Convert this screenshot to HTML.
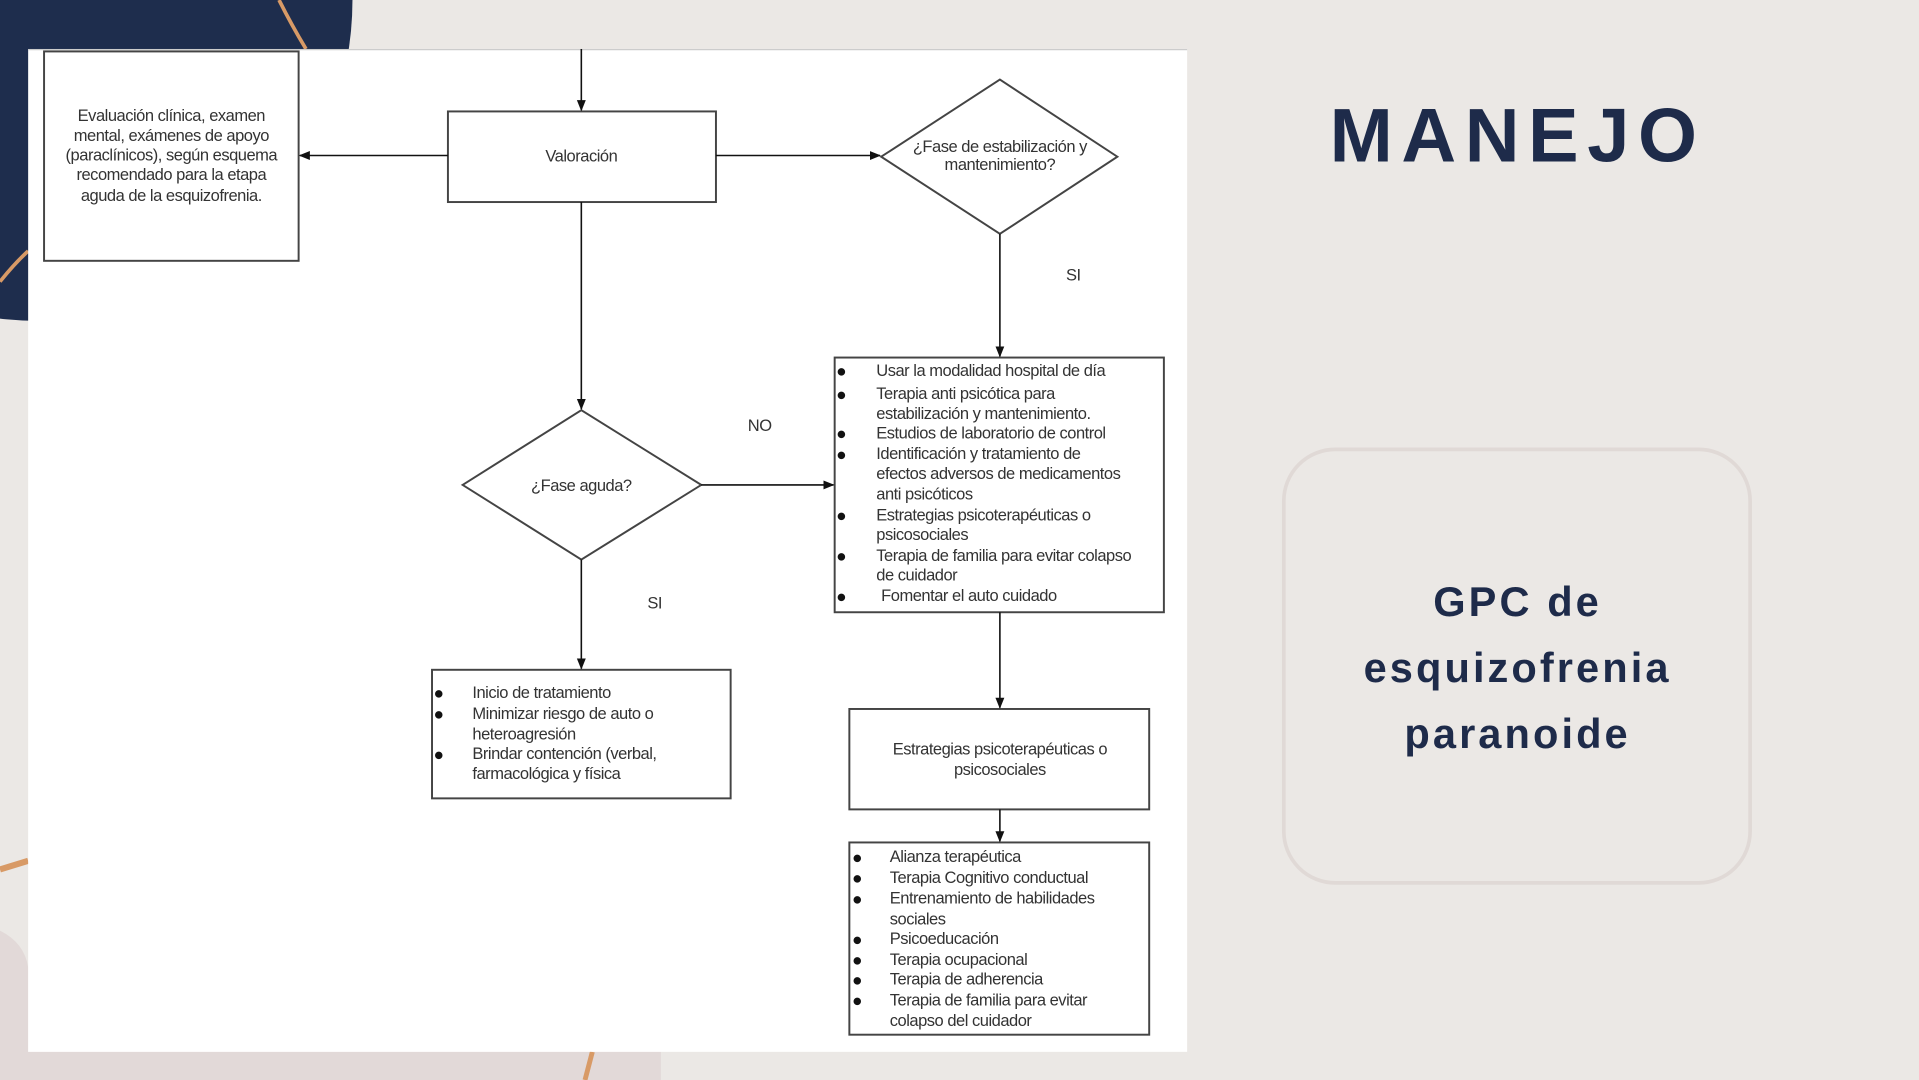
<!DOCTYPE html>
<html><head><meta charset="utf-8"><style>
html,body{margin:0;padding:0;width:1919px;height:1080px;overflow:hidden;background:#ebe8e5}
svg{display:block}
.t{font-family:"Liberation Sans",sans-serif;font-size:13.5px;fill:#333;letter-spacing:-0.4px}
.b{font-family:"DejaVu Sans",sans-serif;font-size:8px;fill:#111}
.c{text-anchor:middle}
</style></head><body>
<svg width="1919" height="1080" viewBox="0 0 1568 882" preserveAspectRatio="none" xmlns="http://www.w3.org/2000/svg">
<defs><marker id="a" viewBox="0 0 10 10" refX="9" refY="5" markerWidth="7" markerHeight="7" orient="auto"><path d="M0,1 L10,5 L0,9z" fill="#111"/></marker></defs>
<rect width="1568" height="882" fill="#ebe8e5"/>
<ellipse cx="30" cy="0" rx="258" ry="262" fill="#1e2d4d"/>
<path d="M228,0 Q238,20 250,40" stroke="#d89a66" stroke-width="3" fill="none"/>
<path d="M0,230 Q12,215 23,205" stroke="#d89a66" stroke-width="3" fill="none"/>
<path d="M0,840 L0,760 Q20,770 23,790 L23,882 L0,882z" fill="#e2d9d8"/>
<rect x="0" y="859" width="540" height="23" fill="#e2d9d8"/>
<path d="M0,710 L23,703" stroke="#d89a66" stroke-width="5"/>
<path d="M478,882 L484,859" stroke="#d89a66" stroke-width="4"/>
<rect x="23" y="40" width="947" height="819" fill="#fff"/>
<line x1="23" y1="40.5" x2="970" y2="40.5" stroke="#ccc" stroke-width="1"/>
<g stroke="#444" stroke-width="1.6" fill="none">
<rect x="36" y="42" width="208" height="171"/>
<rect x="366" y="91" width="219" height="74"/>
<polygon points="720,128 817,65 913,128 817,191"/>
<rect x="682" y="292" width="269" height="208"/>
<polygon points="378,396 475,335 573,396 475,457"/>
<rect x="353" y="547" width="244" height="105"/>
<rect x="694" y="579" width="245" height="82"/>
<rect x="694" y="688" width="245" height="157"/>
</g>
<g stroke="#111" stroke-width="1.3" marker-end="url(#a)">
<line x1="475" y1="40" x2="475" y2="90"/>
<line x1="366" y1="127" x2="245" y2="127"/>
<line x1="585" y1="127" x2="719" y2="127"/>
<line x1="817" y1="191" x2="817" y2="291"/>
<line x1="475" y1="165" x2="475" y2="334"/>
<line x1="573" y1="396" x2="681" y2="396"/>
<line x1="475" y1="457" x2="475" y2="546"/>
<line x1="817" y1="500" x2="817" y2="578"/>
<line x1="817" y1="661" x2="817" y2="687"/>
</g>
<g class="t c">
<text x="140" y="99">Evaluación clínica, examen</text>
<text x="140" y="115">mental, exámenes de apoyo</text>
<text x="140" y="131">(paraclínicos), según esquema</text>
<text x="140" y="147">recomendado para la etapa</text>
<text x="140" y="164">aguda de la esquizofrenia.</text>
<text x="475" y="132">Valoración</text>
<text x="817" y="124">¿Fase de estabilización y</text>
<text x="817" y="139">mantenimiento?</text>
<text x="475" y="401">¿Fase aguda?</text>
<text x="817" y="616">Estrategias psicoterapéuticas o</text>
<text x="817" y="633">psicosociales</text>
</g>
<g class="t">
<text x="871" y="229">SI</text>
<text x="611" y="352">NO</text>
<text x="529" y="497">SI</text>
</g>
<g class="b">
<text x="684" y="306">●</text><text x="684" y="325">●</text><text x="684" y="357">●</text><text x="684" y="374">●</text><text x="684" y="424">●</text><text x="684" y="457">●</text><text x="684" y="490">●</text>
<text x="355" y="569">●</text><text x="355" y="586">●</text><text x="355" y="619">●</text>
<text x="697" y="703">●</text><text x="697" y="720">●</text><text x="697" y="737">●</text><text x="697" y="770">●</text><text x="697" y="787">●</text><text x="697" y="803">●</text><text x="697" y="820">●</text>
</g>
<g class="t">
<text x="716" y="307">Usar la modalidad hospital de día</text>
<text x="716" y="326">Terapia anti psicótica para</text>
<text x="716" y="342">estabilización y mantenimiento.</text>
<text x="716" y="358">Estudios de laboratorio de control</text>
<text x="716" y="375">Identificación y tratamiento de</text>
<text x="716" y="391">efectos adversos de medicamentos</text>
<text x="716" y="408">anti psicóticos</text>
<text x="716" y="425">Estrategias psicoterapéuticas o</text>
<text x="716" y="441">psicosociales</text>
<text x="716" y="458">Terapia de familia para evitar colapso</text>
<text x="716" y="474">de cuidador</text>
<text x="720" y="491">Fomentar el auto cuidado</text>

<text x="386" y="570">Inicio de tratamiento</text>
<text x="386" y="587">Minimizar riesgo de auto o</text>
<text x="386" y="604">heteroagresión</text>
<text x="386" y="620">Brindar contención (verbal,</text>
<text x="386" y="636">farmacológica y física</text>

<text x="727" y="704">Alianza terapéutica</text>
<text x="727" y="721">Terapia Cognitivo conductual</text>
<text x="727" y="738">Entrenamiento de habilidades</text>
<text x="727" y="755">sociales</text>
<text x="727" y="771">Psicoeducación</text>
<text x="727" y="788">Terapia ocupacional</text>
<text x="727" y="804">Terapia de adherencia</text>
<text x="727" y="821">Terapia de familia para evitar</text>
<text x="727" y="838">colapso del cuidador</text>
</g>
<text x="1240" y="132" text-anchor="middle" style="font-family:'Liberation Sans',sans-serif;font-weight:bold;font-size:62px;letter-spacing:7px;fill:#1e2b4a">MANEJO</text>
<rect x="1049" y="367" width="381" height="354" rx="42" fill="#ebe8e5" stroke="#e0d9d6" stroke-width="3"/>
<g style="font-family:'Liberation Sans',sans-serif;font-weight:bold;font-size:34px;letter-spacing:2.5px;fill:#1e2b4a" text-anchor="middle">
<text x="1240" y="503">GPC de</text>
<text x="1240" y="557">esquizofrenia</text>
<text x="1240" y="611">paranoide</text>
</g>
</svg>
</body></html>
